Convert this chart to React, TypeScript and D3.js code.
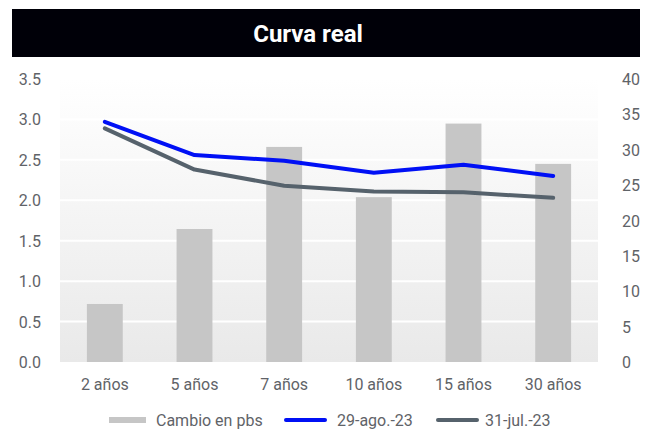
import React from "react";
import * as d3 from "d3";

const categories = ["2 años", "5 años", "7 años", "10 años", "15 años", "30 años"];
const cambioPbs = [8.2, 18.8, 30.4, 23.3, 33.7, 28.0];
const ago29 = [2.97, 2.56, 2.49, 2.34, 2.44, 2.3];
const jul31 = [2.89, 2.38, 2.18, 2.11, 2.1, 2.03];
const leftTicks = [0, 0.5, 1, 1.5, 2, 2.5, 3, 3.5];
const rightTicks = [0, 5, 10, 15, 20, 25, 30, 35, 40];

const W = 651, H = 429;
const plotL = 60, plotR = 598, plotT = 79, plotB = 362;
const FONT = "Roboto, 'Noto Sans', sans-serif";
const TICK = "#5f6368";

export default function App() {
  const x = d3.scaleBand<string>().domain(categories).range([plotL, plotR]).paddingInner(0.6).paddingOuter(0.3);
  const xc = (c: string) => (x(c) as number) + x.bandwidth() / 2;
  const yL = d3.scaleLinear().domain([0, 3.5]).range([plotB, plotT]);
  const yR = d3.scaleLinear().domain([0, 40]).range([plotB, plotT]);
  const line = d3.line<number>().x((_, i) => xc(categories[i])).y((d) => yL(d));

  return (
    <svg width={W} height={H} style={{ position: "absolute", left: 0, top: 0, background: "#fff" }}>
      <defs>
        <linearGradient id="bg" x1="0" y1="0" x2="0" y2="1">
          <stop offset="0" stopColor="#ffffff" />
          <stop offset="1" stopColor="#e9e9e9" />
        </linearGradient>
      </defs>
      <rect x={12} y={9} width={628} height={48} fill="#000008" />
      <text x={308} y={42} textAnchor="middle" fill="#fff" fontFamily={FONT} fontWeight={700} fontSize={24}>
        Curva real
      </text>
      <rect x={plotL} y={plotT} width={plotR - plotL} height={plotB - plotT} fill="url(#bg)" />
      {leftTicks.slice(1).map((t) => (
        <line key={t} x1={plotL} x2={plotR} y1={yL(t)} y2={yL(t)} stroke="#fff" strokeWidth={2} />
      ))}
      {leftTicks.map((t) => (
        <text key={t} x={41} y={yL(t) + 6} textAnchor="end" fill={TICK} fontFamily={FONT} fontSize={16}>
          {d3.format(".1f")(t)}
        </text>
      ))}
      {rightTicks.map((t) => (
        <text key={t} x={622} y={yR(t) + 6} textAnchor="start" fill={TICK} fontFamily={FONT} fontSize={16}>
          {t}
        </text>
      ))}
      {categories.map((c, i) => (
        <rect key={c} x={x(c)} y={yR(cambioPbs[i])} width={x.bandwidth()} height={plotB - yR(cambioPbs[i])} fill="#c6c6c6" />
      ))}
      {categories.map((c) => (
        <text key={c} x={xc(c)} y={390} textAnchor="middle" fill={TICK} fontFamily={FONT} fontSize={16}>
          {c}
        </text>
      ))}
      <path d={line(jul31) as string} fill="none" stroke="#56626c" strokeWidth={4} strokeLinecap="round" strokeLinejoin="round" />
      <path d={line(ago29) as string} fill="none" stroke="#0010f5" strokeWidth={4} strokeLinecap="round" strokeLinejoin="round" />
      <g fontFamily={FONT} fontSize={16} fill={TICK}>
        <rect x={109} y={417} width={37} height={6} fill="#c6c6c6" />
        <text x={156} y={426}>Cambio en pbs</text>
        <line x1={286} x2={325} y1={420} y2={420} stroke="#0010f5" strokeWidth={4} strokeLinecap="round" />
        <text x={337} y={426}>29-ago.-23</text>
        <line x1={438} x2={477} y1={420} y2={420} stroke="#56626c" strokeWidth={4} strokeLinecap="round" />
        <text x={485} y={426}>31-jul.-23</text>
      </g>
    </svg>
  );
}
